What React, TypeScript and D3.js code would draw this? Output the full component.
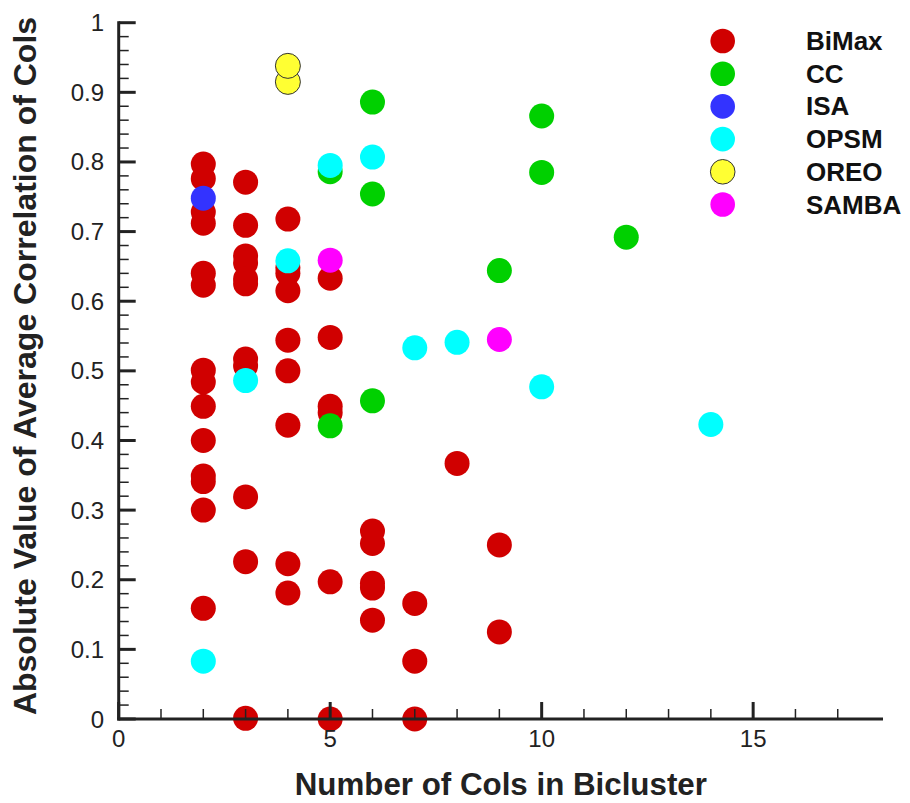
import * as d3 from "d3";

// [cols, |avg correlation|] per algorithm
const bimax: [number, number][] = [
  [2, 0.797], [2, 0.776], [2, 0.728], [2, 0.712], [2, 0.64], [2, 0.623],
  [2, 0.501], [2, 0.484], [2, 0.449], [2, 0.4], [2, 0.349], [2, 0.341],
  [2, 0.3], [2, 0.159],
  [3, 0.771], [3, 0.709], [3, 0.665], [3, 0.655], [3, 0.632], [3, 0.625],
  [3, 0.517], [3, 0.507], [3, 0.319], [3, 0.226], [3, 0.001],
  [4, 0.718], [4, 0.648], [4, 0.64], [4, 0.615], [4, 0.544], [4, 0.5],
  [4, 0.422], [4, 0.223], [4, 0.181],
  [5, 0.633], [5, 0.548], [5, 0.449], [5, 0.44], [5, 0.197], [5, 0.0],
  [6, 0.27], [6, 0.252], [6, 0.195], [6, 0.188], [6, 0.142],
  [7, 0.166], [7, 0.083], [7, 0.0],
  [8, 0.367],
  [9, 0.25], [9, 0.125],
];
const cc: [number, number][] = [
  [5, 0.786], [5, 0.421], [6, 0.886], [6, 0.754], [6, 0.457],
  [9, 0.644], [10, 0.866], [10, 0.785], [12, 0.692],
];
const isa: [number, number][] = [[2, 0.748]];
const opsm: [number, number][] = [
  [2, 0.083], [3, 0.486], [4, 0.658], [5, 0.795], [6, 0.807],
  [7, 0.533], [8, 0.541], [10, 0.477], [14, 0.423],
];
const oreo: [number, number][] = [[4, 0.915], [4, 0.938]];
const samba: [number, number][] = [[5, 0.659], [9, 0.545]];

const seriesNames = ["BiMax", "CC", "ISA", "OPSM", "OREO", "SAMBA"];
const seriesData = [bimax, cc, isa, opsm, oreo, samba];
const seriesColors = ["#d00000", "#00d000", "#3333ff", "#00ffff", "#ffff33", "#ff00ff"];

const xTicks = [0, 5, 10, 15];
const yTicks = [0, 0.1, 0.2, 0.3, 0.4, 0.5, 0.6, 0.7, 0.8, 0.9, 1];

const W = 910;
const H = 803;
const left = 118.7;
const right = 883;
const top = 22.7;
const bottom = 719;

const font = "Arial, 'Liberation Sans', Helvetica, sans-serif";
const ink = "#222";

export default function App() {
  const x = d3.scaleLinear().domain([0, 18.07]).range([left, right]);
  const y = d3.scaleLinear().domain([0, 1]).range([bottom, top]);

  const xMinor = d3.range(0, 18, 1).filter((v) => v % 5 !== 0);
  const yMinor = d3.range(0, 50).map((i) => i * 0.02).filter((_, i) => i % 5 !== 0);

  return (
    <svg width={W} height={H} style={{ position: "absolute", left: 0, top: 0, display: "block" }}>
      <rect width={W} height={H} fill="#fff" />

      {/* points */}
      {seriesData.map((pts, si) => (
        <g key={seriesNames[si]}>
          {pts.map((d, i) => (
            <circle
              key={i}
              cx={x(d[0])}
              cy={y(d[1])}
              r={12.5}
              fill={seriesColors[si]}
              stroke={seriesNames[si] === "OREO" ? "#333" : "none"}
              strokeWidth={1}
            />
          ))}
        </g>
      ))}

      {/* axes */}
      <g stroke={ink}>
        <line x1={left} x2={left} y1={top - 1.5} y2={bottom + 1.5} strokeWidth={3} />
        <line x1={left - 1.5} x2={right} y1={bottom} y2={bottom} strokeWidth={3} />
        {yTicks.map((t) => (
          <line key={"ym" + t} x1={left} x2={left + 17} y1={y(t)} y2={y(t)} strokeWidth={3} />
        ))}
        {yMinor.map((t) => (
          <line key={"yn" + t} x1={left} x2={left + 10} y1={y(t)} y2={y(t)} strokeWidth={1.5} />
        ))}
        {xTicks.map((t) => (
          <line key={"xm" + t} x1={x(t)} x2={x(t)} y1={bottom} y2={bottom - 17} strokeWidth={3} />
        ))}
        {xMinor.map((t) => (
          <line key={"xn" + t} x1={x(t)} x2={x(t)} y1={bottom} y2={bottom - 10} strokeWidth={1.5} />
        ))}
      </g>

      {/* tick labels */}
      <g fontFamily={font} fontSize={24} fill={ink}>
        {yTicks.map((t) => (
          <text key={"yl" + t} x={104} y={y(t)} textAnchor="end" dominantBaseline="central">
            {d3.format("~g")(t)}
          </text>
        ))}
        {xTicks.map((t) => (
          <text key={"xl" + t} x={x(t)} y={747} textAnchor="middle">
            {t}
          </text>
        ))}
      </g>

      {/* axis titles */}
      <text
        x={(left + right) / 2}
        y={795}
        textAnchor="middle"
        fontFamily={font}
        fontWeight="bold"
        fontSize={31.3}
        fill={ink}
      >
        Number of Cols in Bicluster
      </text>
      <text
        transform={`translate(36, 366) rotate(-90)`}
        textAnchor="middle"
        fontFamily={font}
        fontWeight="bold"
        fontSize={32}
        fill={ink}
      >
        Absolute Value of Average Correlation of Cols
      </text>

      {/* legend */}
      <g fontFamily={font} fontWeight="bold" fontSize={26} fill="#111">
        {seriesNames.map((name, i) => {
          const ly = 41 + i * 32.7;
          return (
            <g key={"lg" + name}>
              <circle
                cx={722.7}
                cy={ly}
                r={12.3}
                fill={seriesColors[i]}
                stroke={name === "OREO" ? "#333" : "none"}
                strokeWidth={1}
              />
              <text x={806} y={ly} dominantBaseline="central">
                {name}
              </text>
            </g>
          );
        })}
      </g>
    </svg>
  );
}
